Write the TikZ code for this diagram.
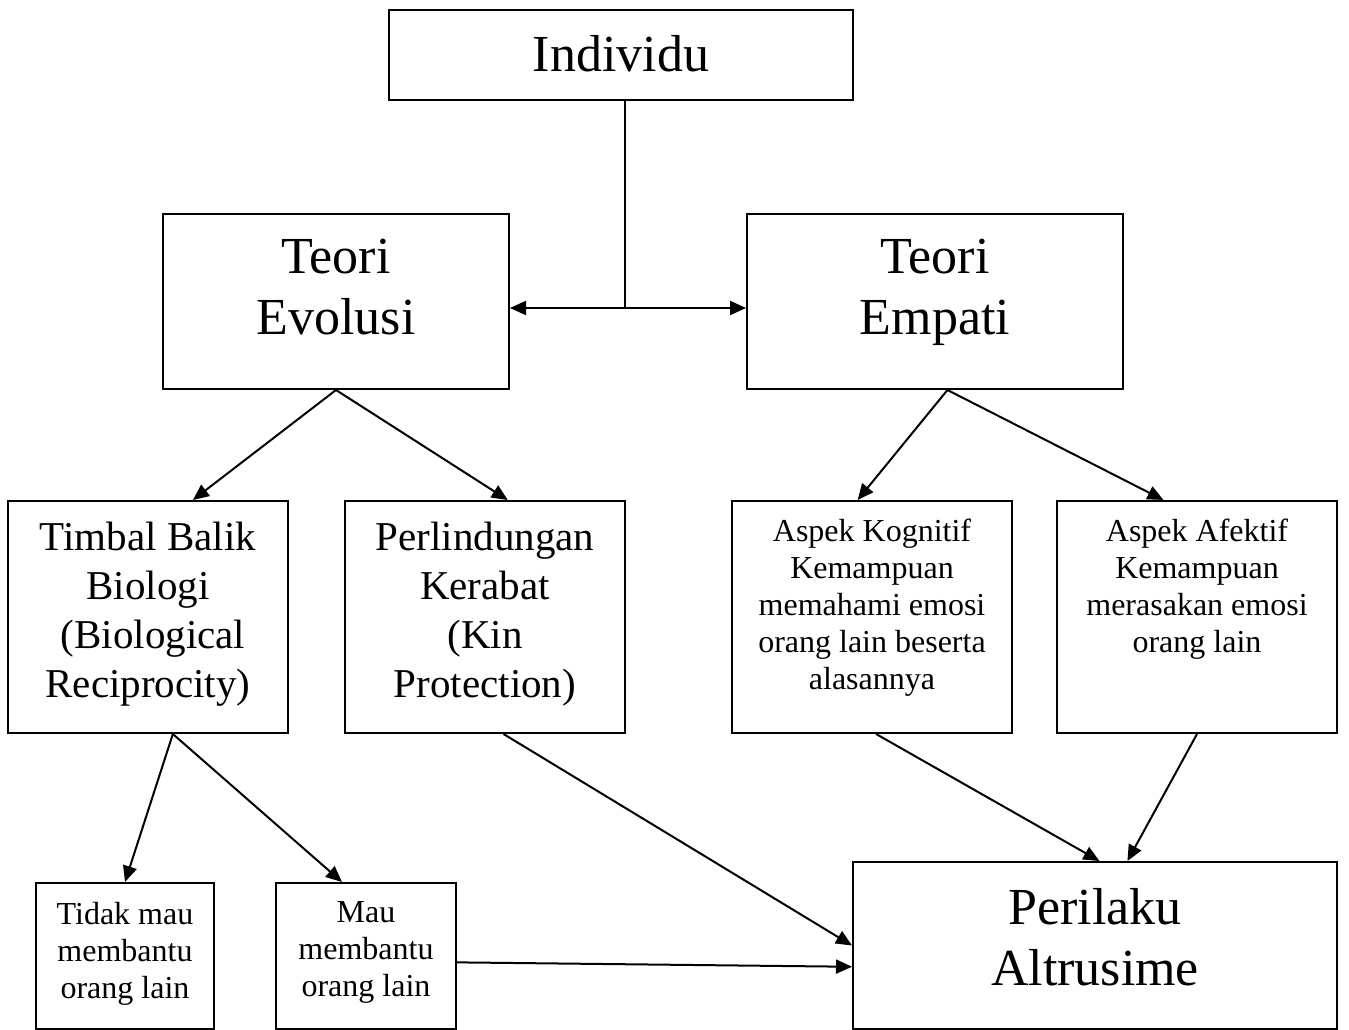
\documentclass[tikz,border=0pt]{standalone}
\usepackage{fontspec}
\setmainfont{Liberation Serif}
\usetikzlibrary{positioning, arrows.meta}

\tikzset{
	box/.style={draw, inner sep=0pt},
	big/.style={font=\fontsize{52}{61}\selectfont, align=center, inner sep=0pt},
	mid/.style={font=\fontsize{41}{49}\selectfont, align=center, inner sep=0pt},
	small/.style={font=\fontsize{32}{37}\selectfont, align=center, inner sep=0pt}
}

\begin{document}
\begin{tikzpicture}[x=1pt, y=-1pt, line width=2pt, >={Triangle[length=16pt,width=14pt]}]
	\useasboundingbox (0,0) rectangle (1349,1030);

	\node[box, minimum width=464, minimum height=90] (indiv) at (621,55) {};
	\node[box, minimum width=346, minimum height=175] (evol) at (336,301.5) {};
	\node[box, minimum width=376, minimum height=175] (empati) at (935,301.5) {};
	\node[box, minimum width=280, minimum height=232] (timbal) at (148,617) {};
	\node[box, minimum width=280, minimum height=232] (kerabat) at (485,617) {};
	\node[box, minimum width=280, minimum height=232] (kognitif) at (872,617) {};
	\node[box, minimum width=280, minimum height=232] (afektif) at (1197,617) {};
	\node[box, minimum width=178, minimum height=146] (tidak) at (125,956) {};
	\node[box, minimum width=180, minimum height=146] (mau) at (366,956) {};
	\node[box, minimum width=484, minimum height=167] (perilaku) at (1095,945.5) {};

	\node[big, below=25pt of indiv.north] (indiv-t) {Individu};
	\node[big, below=25pt of evol.north] (evol-t) {Teori\\Evolusi};
	\node[big, below=25pt of empati.north] (empati-t) {Teori\\Empati};
	\node[mid, below=21pt of timbal.north] (timbal-t) {Timbal Balik\\Biologi\\\ (Biological\\Reciprocity)};
	\node[mid, below=21pt of kerabat.north] (kerabat-t) {Perlindungan\\Kerabat\\(Kin\\Protection)};
	\node[small, below=18pt of kognitif.north] (kognitif-t) {Aspek Kognitif\\Kemampuan\\memahami emosi\\orang lain beserta\\alasannya};
	\node[small, below=18pt of afektif.north] (afektif-t) {Aspek Afektif\\Kemampuan\\merasakan emosi\\orang lain};
	\node[small, below=19pt of tidak.north] (tidak-t) {Tidak mau\\membantu\\orang lain};
	\node[small, below=19pt of mau.north] (mau-t) {Mau\\membantu\\orang lain};
	\node[big, below=26pt of perilaku.north] (perilaku-t) {Perilaku\\Altrusime};

	\coordinate (j) at (625,308);
	\draw (indiv.south -| j) -- (j);
	\draw[<->] (evol.east |- j) -- (empati.west |- j);

	\path [->]
		(evol.south) edge (timbal.69)
		(evol.south) edge (kerabat.79)
		(empati.-82) edge (kognitif.97)
		(empati.-82) edge (afektif.106)
		(timbal.-78) edge (tidak.north)
		(timbal.-78) edge (mau.108)
		(kerabat.-81) edge (perilaku.west)
		(mau.-4) edge (perilaku.185)
		(kognitif.-88) edge (perilaku.87)
		(afektif.south) edge (perilaku.69)
		;
\end{tikzpicture}
\end{document}
